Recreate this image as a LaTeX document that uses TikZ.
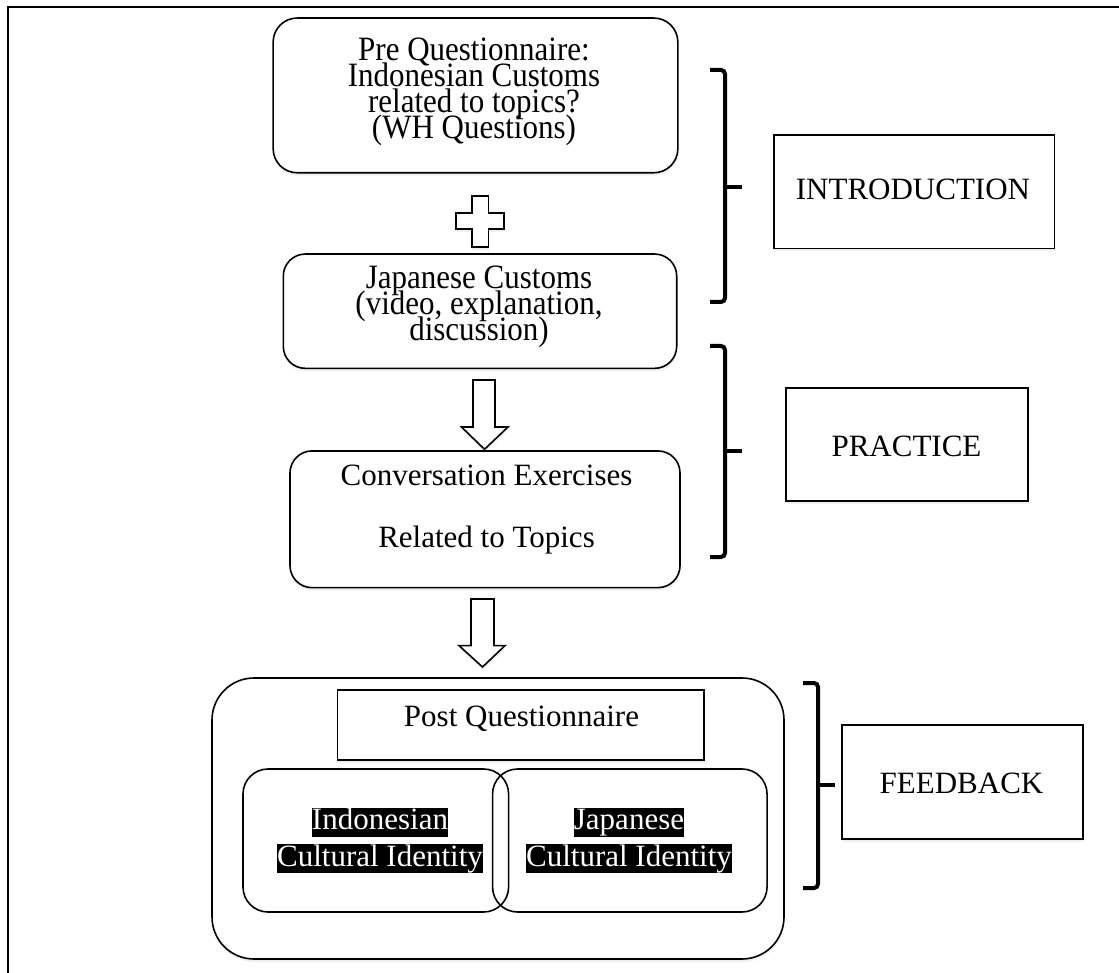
\documentclass[tikz,border=0pt]{standalone}
\usepackage{graphicx}
\usepackage{fontspec}
\setmainfont{Liberation Serif}
\usetikzlibrary{shadows}
\newcommand\lnstrut{\rule[-7pt]{0pt}{23pt}}
\newcommand\tall[1]{\lnstrut\scalebox{1}[1.1]{#1}}
\newcommand\blackhl[1]{\colorbox{black}{\rule[-7pt]{0pt}{29pt}\textcolor{white}{#1}}}
\begin{document}
\begin{tikzpicture}[x=1pt,y=-1pt,
  shad/.style={drop shadow={opacity=0.12,shadow xshift=0.5pt,shadow yshift=-3pt}},
  rbox/.style={draw,line width=1.6pt,fill=white,rounded corners=#1,inner sep=0pt,shad},
  ibox/.style={draw,line width=1.6pt,rounded corners=25pt,inner sep=0pt},
  sbox/.style={draw,line width=1.6pt,fill=white,inner sep=0pt,shad},
  txt/.style={inner sep=0pt,align=center,font={\fontsize{31}{25}\selectfont\lineskiplimit=-100pt}},
  txtw/.style={inner sep=0pt,align=center,font={\fontsize{31}{26}\selectfont\lineskiplimit=-100pt}},
  hltxt/.style={inner sep=0pt,align=center,font={\fontsize{31}{36.5}\selectfont\lineskiplimit=-100pt\fboxsep=0pt}},
  blockarrow/.style={draw,line width=1.6pt,fill=white,line join=miter,shad},
  brace/.style={line width=4pt,rounded corners=4pt},
  frame/.style={line width=2pt}
]
\useasboundingbox (0,0) rectangle (1119,973);

% outer frame (top and left only)
\coordinate (fbl) at (8.3,973);
\coordinate (ftl) at (8.3,7.5);
\coordinate (ftr) at (1119,7.5);
\draw[frame] (fbl) -- (ftl) -- (ftr);

% main column boxes
\node[rbox=24pt, minimum width=404.7pt, minimum height=154.7pt] (box1) at (475.5,95.4) {};
\node[txtw] (t1) at (474,91.5) {\tall{Pre Questionnaire:}\\\tall{Indonesian Customs}\\\tall{related to topics?}\\\tall{(WH Questions)}};

% plus sign
\draw[blockarrow] (471.7,196) -- (488.3,196) -- (488.3,213) -- (504,213) -- (504,229) -- (488.3,229)
  -- (488.3,247) -- (471.7,247) -- (471.7,229) -- (456,229) -- (456,213) -- (471.7,213) -- cycle;

\node[rbox=22pt, minimum width=393.4pt, minimum height=114.3pt] (box2) at (480,311.2) {};
\node[txtw] (t2) at (479,307.3) {\tall{Japanese Customs}\\\tall{(video, explanation,}\\\tall{discussion)}};

% arrow 1
\draw[blockarrow] (473,380) -- (495,380) -- (495,427) -- (508,427) -- (484.5,449.3) -- (461.5,427) -- (473,427) -- cycle;

\node[rbox=22pt, minimum width=390pt, minimum height=136.7pt] (box3) at (485,519.3) {};
\node[txt] (t3) at (486.5,509.5) {\lnstrut Conversation Exercises\\[36.6pt]\lnstrut Related to Topics};

% arrow 2
\draw[blockarrow] (471,599) -- (494,599) -- (494,645.6) -- (505,645.6) -- (482.5,667) -- (459,645.6) -- (471,645.6) -- cycle;

% feedback group
\node[rbox=42pt, minimum width=572pt, minimum height=281pt] (big) at (498,818.5) {};
\node[sbox, minimum width=366.4pt, minimum height=70pt] (post) at (520.8,725) {};
\node[txt] (tp) at (521.5,720) {\lnstrut Post Questionnaire};
\node[ibox, minimum width=265.6pt, minimum height=143pt] (indo) at (375.8,840.5) {};
\node[ibox, minimum width=274.5pt, minimum height=143pt] (japa) at (629.8,840.5) {};
\node[hltxt] (ti) at (380,840.6) {\blackhl{Indonesian}\\\blackhl{Cultural Identity}};
\node[hltxt] (tj) at (629,840.6) {\blackhl{Japanese}\\\blackhl{Cultural Identity}};

% braces
\draw[brace] (710,70) -- (725,70) -- (725,302) -- (710,302);
\draw[brace] (725,187) -- (742,187);
\draw[brace] (710,346) -- (725,346) -- (725,557) -- (710,557);
\draw[brace] (725,451) -- (742,451);
\draw[brace] (803,683) -- (818,683) -- (818,888) -- (803,888);
\draw[brace] (818,785) -- (835,785);

% stage labels
\node[sbox, minimum width=280.3pt, minimum height=113.3pt] (intro) at (914.2,191.7) {};
\node[txt] (tintro) at (913,193) {\lnstrut INTRODUCTION};
\node[sbox, minimum width=242pt, minimum height=113pt] (prac) at (907,444.5) {};
\node[txt] (tprac) at (906.5,450) {\lnstrut PRACTICE};
\node[sbox, minimum width=241pt, minimum height=114pt] (feed) at (962.5,782) {};
\node[txt] (tfeed) at (961.5,786.5) {\lnstrut FEEDBACK};
\end{tikzpicture}
\end{document}
